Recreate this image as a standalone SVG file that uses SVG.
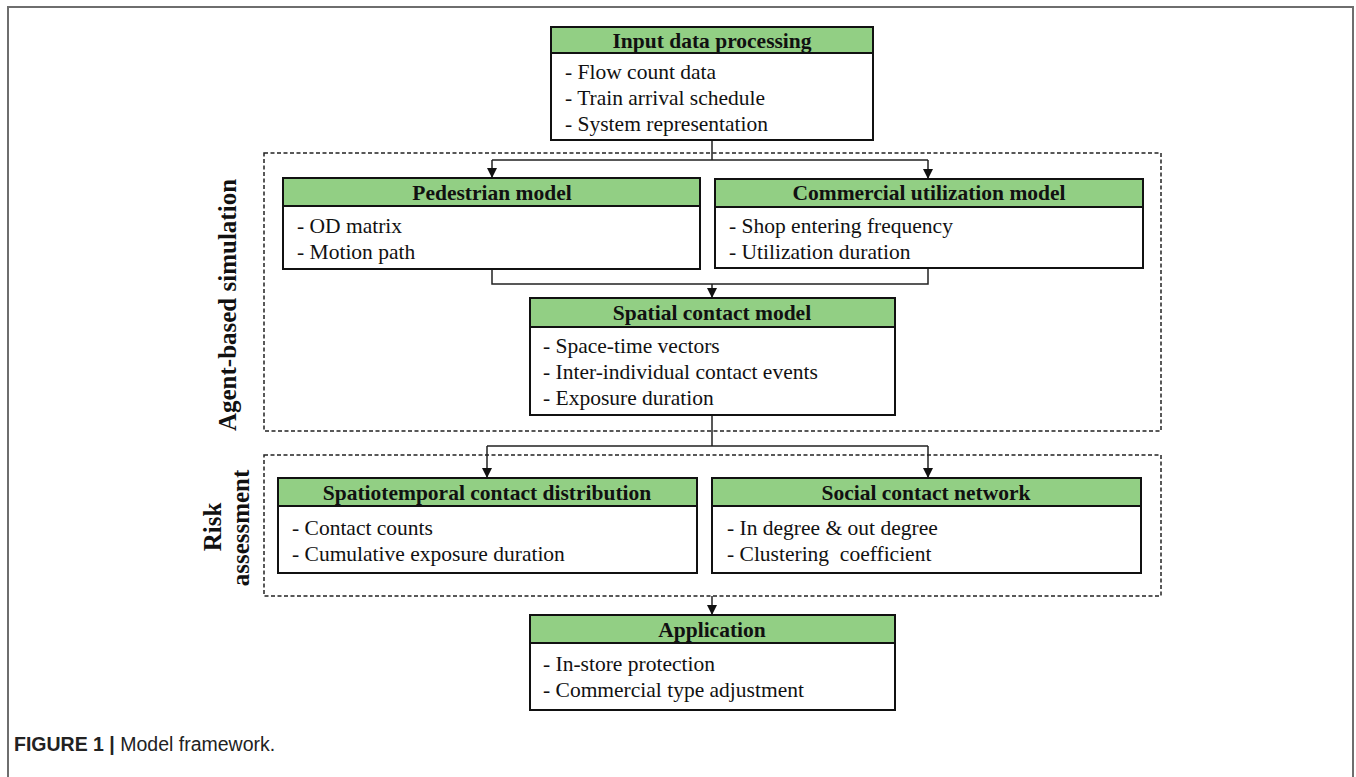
<svg xmlns="http://www.w3.org/2000/svg" width="1356" height="777" viewBox="0 0 1356 777">
<style>
.frame{fill:none;stroke:#6e6e6e;stroke-width:2}
.box{fill:#fff;stroke:#111;stroke-width:2}
.hdr{fill:#92cf84;stroke:#111;stroke-width:2}
.dash{fill:none;stroke:#222;stroke-width:1.5;stroke-dasharray:4 2.5}
.ht{font-family:"Liberation Serif","Times New Roman",serif;font-weight:bold;font-size:21.5px;fill:#111;text-anchor:middle}
.bt{font-family:"Liberation Serif","Times New Roman",serif;font-size:21.5px;fill:#111}
.lab{font-family:"Liberation Serif","Times New Roman",serif;font-weight:bold;font-size:25px;fill:#111;text-anchor:middle}
.con{fill:none;stroke:#222;stroke-width:1.5}
.cap{font-family:"Liberation Sans",Arial,sans-serif;font-size:19.5px;fill:#222}
</style>
<defs>
<marker id="arr" viewBox="0 0 10 10" refX="10" refY="5" markerWidth="10" markerHeight="10" markerUnits="userSpaceOnUse" orient="auto">
<path d="M0,0 L10,5 L0,10 Z" fill="#111"/>
</marker>
</defs>
<rect width="1356" height="777" fill="#fff"/>
<path class="frame" d="M8,790 L8,7 L1353,7 L1353,790"/>

<g id="groups">
<rect class="dash" x="264" y="153" width="897" height="278"/>
<rect class="dash" x="264" y="455" width="897" height="141"/>
<text class="lab" transform="translate(236,305) rotate(-90)">Agent-based simulation</text>
<text class="lab" transform="translate(221,527) rotate(-90)">Risk</text>
<text class="lab" transform="translate(249,528) rotate(-90)">assessment</text>
</g>

<g id="connectors">
<path class="con" d="M712,141 L712,160 M492,160 L928,160"/>
<path class="con" d="M492,160 L492,178" marker-end="url(#arr)"/>
<path class="con" d="M928,160 L928,179" marker-end="url(#arr)"/>
<path class="con" d="M492,270 L492,284 L928,284 L928,269"/>
<path class="con" d="M712,284 L712,298" marker-end="url(#arr)"/>
<path class="con" d="M712,416 L712,446 M487,446 L928,446"/>
<path class="con" d="M487,446 L487,478" marker-end="url(#arr)"/>
<path class="con" d="M928,446 L928,478" marker-end="url(#arr)"/>
<path class="con" d="M712,596 L712,615" marker-end="url(#arr)"/>
</g>

<g id="input">
<rect class="box" x="551" y="27" width="322" height="113"/>
<rect class="hdr" x="551" y="27" width="322" height="26"/>
<text class="ht" x="712" y="48">Input data processing</text>
<text class="bt" x="565" y="79">- Flow count data</text>
<text class="bt" x="565" y="105">- Train arrival schedule</text>
<text class="bt" x="565" y="131">- System representation</text>
</g>

<g id="pedestrian">
<rect class="box" x="283" y="178" width="417" height="91"/>
<rect class="hdr" x="283" y="178" width="417" height="28"/>
<text class="ht" x="492" y="200">Pedestrian model</text>
<text class="bt" x="297" y="233">- OD matrix</text>
<text class="bt" x="297" y="259">- Motion path</text>
</g>

<g id="commercial">
<rect class="box" x="715" y="179" width="428" height="89"/>
<rect class="hdr" x="715" y="179" width="428" height="28"/>
<text class="ht" x="929" y="200">Commercial utilization model</text>
<text class="bt" x="729" y="233">- Shop entering frequency</text>
<text class="bt" x="729" y="259">- Utilization duration</text>
</g>

<g id="spatial">
<rect class="box" x="530" y="298" width="365" height="117"/>
<rect class="hdr" x="530" y="298" width="365" height="29"/>
<text class="ht" x="712" y="320">Spatial contact model</text>
<text class="bt" x="543" y="353">- Space-time vectors</text>
<text class="bt" x="543" y="379">- Inter-individual contact events</text>
<text class="bt" x="543" y="405">- Exposure duration</text>
</g>

<g id="spatiotemporal">
<rect class="box" x="278" y="478" width="419" height="95"/>
<rect class="hdr" x="278" y="478" width="419" height="28"/>
<text class="ht" x="487" y="500">Spatiotemporal contact distribution</text>
<text class="bt" x="292" y="535">- Contact counts</text>
<text class="bt" x="292" y="561">- Cumulative exposure duration</text>
</g>

<g id="social">
<rect class="box" x="712" y="478" width="429" height="95"/>
<rect class="hdr" x="712" y="478" width="429" height="28"/>
<text class="ht" x="926" y="500">Social contact network</text>
<text class="bt" x="727" y="535">- In degree &amp; out degree</text>
<text class="bt" x="727" y="561" xml:space="preserve">- Clustering  coefficient</text>
</g>

<g id="application">
<rect class="box" x="530" y="615" width="365" height="95"/>
<rect class="hdr" x="530" y="615" width="365" height="28"/>
<text class="ht" x="712" y="637">Application</text>
<text class="bt" x="543" y="671">- In-store protection</text>
<text class="bt" x="543" y="697">- Commercial type adjustment</text>
</g>

<text class="cap" x="14" y="751"><tspan font-weight="bold">FIGURE 1 | </tspan>Model framework.</text>
</svg>
